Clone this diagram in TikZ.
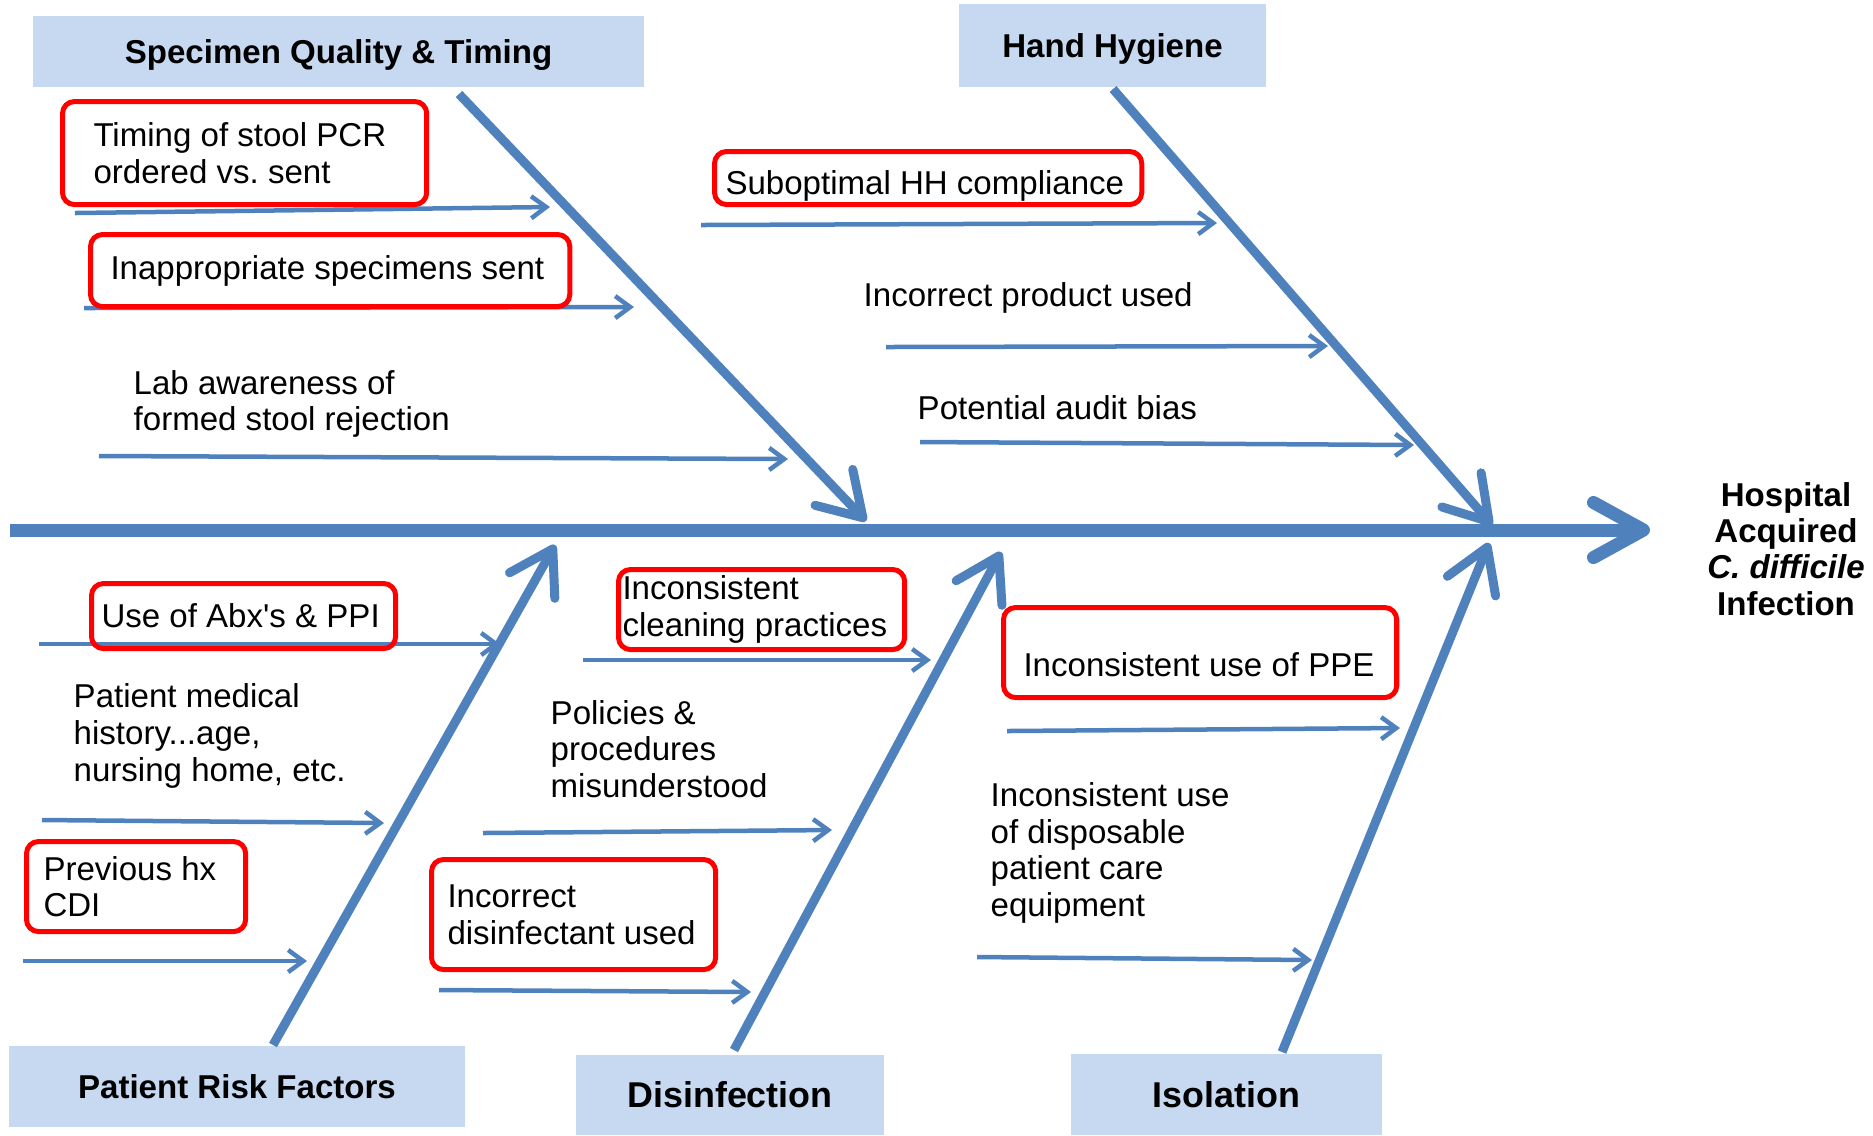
\documentclass[tikz,border=0pt]{standalone}
\usepackage{fontspec}
\setmainfont{Liberation Sans}
\usetikzlibrary{arrows.meta}
\definecolor{boneblue}{HTML}{4F81BD}
\definecolor{headfill}{HTML}{C6D9F1}
\definecolor{boxred}{HTML}{FF0000}
\frenchspacing

\begin{document}
\begin{tikzpicture}[x=0.01cm, y=-0.01cm,
    every node/.style={font=\fontsize{9.4pt}{10.4pt}\selectfont},
    category/.style={fill=headfill, inner sep=0pt, font=\fontsize{9.4pt}{10.4pt}\selectfont\bfseries},
    bigcat/.style={category, font=\fontsize{10.2pt}{11pt}\selectfont\bfseries},
    cause/.style={inner sep=0pt, anchor=west, align=left},
    redbox/.style={draw=boxred, line width=0.05cm, rounded corners=0.12cm, anchor=north west, align=flush left, inner ysep=0pt},
    spine/.style={boneblue, line width=0.13cm, -{Straight Barb[length=0.5cm, width=0.55cm, round]}},
    bone/.style={boneblue, line width=0.09cm, -{Straight Barb[length=0.42cm, width=0.52cm, round]}},
    twig/.style={boneblue, line width=0.045cm, -{Straight Barb[length=0.15cm, width=0.22cm]}}]
    \useasboundingbox (0,0) rectangle (1873,1135);

    \node[category, text depth=0pt, minimum width=6.11cm, minimum height=0.71cm] (specimen) at (338.5,51.5) {Specimen Quality \& Timing};
    \node[category, text depth=0pt, minimum width=3.07cm, minimum height=0.83cm] (hygiene) at (1112.5,45.5) {Hand Hygiene};
    \node[category, minimum width=4.56cm, minimum height=0.81cm] (patient) at (237,1086.5) {Patient Risk Factors};
    \node[bigcat, minimum width=3.08cm, minimum height=0.80cm] (disinf) at (730,1095) {Disinfection};
    \node[bigcat, minimum width=3.11cm, minimum height=0.81cm] (isolation) at (1226.5,1094.5) {Isolation};

    \node[align=center, inner sep=0pt, font=\fontsize{9.4pt}{10.3pt}\selectfont\bfseries] (result) at (1786,549) {Hospital\\Acquired\\\textit{C. difficile}\\Infection};

    \coordinate (spinestart) at (10,530);
    \coordinate (spineend) at (1650,530);
    \coordinate (sqtop) at (459,94);
    \coordinate (sqend) at (866,521);
    \coordinate (hhtop) at (1113,89);
    \coordinate (hhend) at (1492,525);
    \coordinate (prbot) at (273,1045);
    \coordinate (prend) at (555,545);
    \coordinate (dibot) at (734,1050);
    \coordinate (diend) at (1001,552);
    \coordinate (isbot) at (1282,1052);
    \coordinate (isend) at (1489,543);

    \draw[spine] (spinestart) -- (spineend);
    \draw[bone] (sqtop) -- (sqend);
    \draw[bone] (hhtop) -- (hhend);
    \draw[bone] (prbot) -- (prend);
    \draw[bone] (dibot) -- (diend);
    \draw[bone] (isbot) -- (isend);

    \coordinate (t1s) at (75,213);    \coordinate (t1e) at (550,207);
    \coordinate (t2s) at (84,308);    \coordinate (t2e) at (634,307);
    \coordinate (t3s) at (99,456);    \coordinate (t3e) at (788,459);
    \coordinate (t4s) at (701,225);   \coordinate (t4e) at (1217,223);
    \coordinate (t5s) at (886,347);   \coordinate (t5e) at (1328,346);
    \coordinate (t6s) at (920,442);   \coordinate (t6e) at (1414,445);
    \coordinate (t7s) at (39,644);    \coordinate (t7e) at (500,644);
    \coordinate (t8s) at (42,820);    \coordinate (t8e) at (384,823);
    \coordinate (t9s) at (23,961);    \coordinate (t9e) at (307,961);
    \coordinate (t10s) at (583,660);  \coordinate (t10e) at (931,660);
    \coordinate (t11s) at (483,833);  \coordinate (t11e) at (832,830);
    \coordinate (t12s) at (439,990);  \coordinate (t12e) at (751,992);
    \coordinate (t13s) at (1007,731); \coordinate (t13e) at (1400,728);
    \coordinate (t14s) at (977,957);  \coordinate (t14e) at (1312,960);

    \draw[twig] (t1s) -- (t1e);
    \draw[twig] (t2s) -- (t2e);
    \draw[twig] (t3s) -- (t3e);
    \draw[twig] (t4s) -- (t4e);
    \draw[twig] (t5s) -- (t5e);
    \draw[twig] (t6s) -- (t6e);
    \draw[twig] (t7s) -- (t7e);
    \draw[twig] (t8s) -- (t8e);
    \draw[twig] (t9s) -- (t9e);
    \draw[twig] (t10s) -- (t10e);
    \draw[twig] (t11s) -- (t11e);
    \draw[twig] (t12s) -- (t12e);
    \draw[twig] (t13s) -- (t13e);
    \draw[twig] (t14s) -- (t14e);

    \node[redbox, minimum width=3.64cm, minimum height=1.03cm, inner xsep=0.31cm, text width=3.02cm] (pcrtiming) at (60,99) {Timing of stool PCR\\ordered vs. sent};
    \node[redbox, minimum width=4.79cm, minimum height=0.72cm, inner xsep=0.20cm, text width=4.39cm] (badspec) at (88,232) {Inappropriate specimens sent};
    \node[cause] (labaware) at (133,404) {Lab awareness of\\formed stool rejection};

    \node[redbox, minimum width=4.27cm, minimum height=0.53cm, inner xsep=0.11cm, text width=4.05cm] (hhcompl) at (712,149) {\raisebox{-0.075cm}[\height][\depth]{Suboptimal HH compliance}};
    \node[cause] (product) at (863,298) {Incorrect product used};
    \node[cause] (audit) at (917,408) {Potential audit bias};

    \node[redbox, minimum width=3.04cm, minimum height=0.65cm, inner xsep=0.10cm, text width=2.84cm] (abx) at (89,581) {Use of Abx\textquotesingle s \& PPI};
    \node[cause] (history) at (73,736) {Patient medical\\history...age,\\nursing home, etc.};
    \node[redbox, minimum width=2.19cm, minimum height=0.90cm, inner xsep=0.17cm, text width=1.85cm] (prevcdi) at (24,839) {Previous hx\\CDI};

    \node[redbox, minimum width=2.86cm, minimum height=0.80cm, inner xsep=0.04cm, text width=2.78cm] (cleaning) at (616,567) {Inconsistent\\cleaning practices};
    \node[cause] (policies) at (550,749) {Policies \&\\procedures\\misunderstood};
    \node[redbox, minimum width=2.84cm, minimum height=1.10cm, inner xsep=0.16cm, text width=2.52cm] (wrongdis) at (429,857) {Incorrect\\disinfectant used};

    \node[redbox, minimum width=3.93cm, minimum height=0.90cm, inner xsep=0.20cm, text width=3.53cm] (ppe) at (1001,605) {\raisebox{-0.125cm}[\height][\depth]{Inconsistent use of PPE}};
    \node[cause] (disposable) at (990,853) {Inconsistent use\\of disposable\\patient care\\equipment};
\end{tikzpicture}
\end{document}
